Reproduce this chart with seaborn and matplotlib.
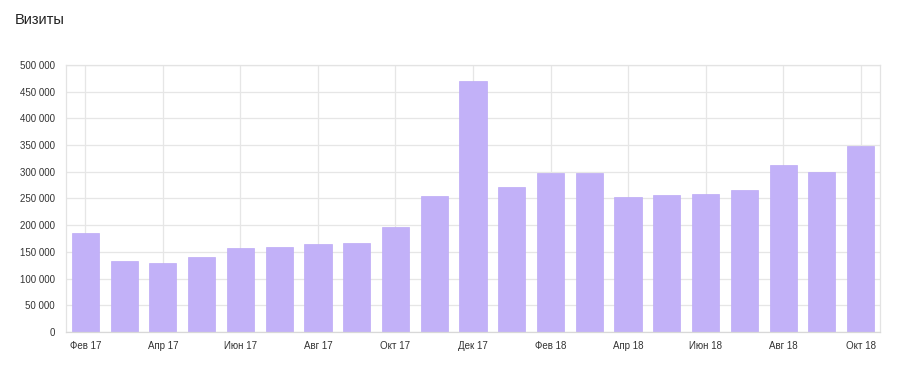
import matplotlib
matplotlib.use("Agg")
import matplotlib.pyplot as plt
import seaborn as sns
import pandas as pd
from matplotlib.ticker import FuncFormatter, MultipleLocator

months = ["Фев 17", "Мар 17", "Апр 17", "Май 17", "Июн 17", "Июл 17", "Авг 17",
          "Сен 17", "Окт 17", "Ноя 17", "Дек 17", "Янв 18", "Фев 18", "Мар 18",
          "Апр 18", "Май 18", "Июн 18", "Июл 18", "Авг 18", "Сен 18", "Окт 18"]
visits = [185000, 133000, 128600, 140400, 157900, 159800, 165400,
          166700, 196600, 254700, 469400, 270900, 298400, 297100,
          252800, 255900, 259100, 266500, 312100, 300300, 348900]
shown_labels = ["Фев 17", "Апр 17", "Июн 17", "Авг 17", "Окт 17", "Дек 17",
                "Фев 18", "Апр 18", "Июн 18", "Авг 18", "Окт 18"]
title = "Визиты"

sns.set_style("white")
plt.rcParams["font.family"] = ["Liberation Sans", "DejaVu Sans"]

df = pd.DataFrame({"month": months, "visits": visits})

fig = plt.figure(figsize=(9, 3.67), dpi=100)
ax = fig.add_axes([0.0733, 0.0954, 0.9045, 0.7275])

sns.barplot(data=df, x="month", y="visits", order=months, color="#c2b1f8",
            width=0.7, edgecolor="#bdaaf6", linewidth=0.5, saturation=1, ax=ax)

ax.set_xlim(-0.5, len(months) - 0.5)
ax.set_ylim(0, 500000)
ax.yaxis.set_major_locator(MultipleLocator(50000))
ax.yaxis.set_major_formatter(FuncFormatter(lambda v, p: f"{int(v):,}".replace(",", " ")))

tick_pos = [months.index(m) for m in shown_labels]
ax.set_xticks(tick_pos)
ax.set_xticklabels(shown_labels)

ax.set_axisbelow(True)
ax.grid(True, axis="both", color="#e6e6e6", linewidth=0.9)
for s in ax.spines.values():
    s.set_color("#e3e3e3")
    s.set_linewidth(0.9)
ax.spines["bottom"].set_color("#d8d8d8")

ax.tick_params(axis="both", length=0, labelsize=7, labelcolor="#333333")
ax.tick_params(axis="x", pad=6.5)
ax.tick_params(axis="y", pad=8)
ax.set_xlabel("")
ax.set_ylabel("")

fig.text(15 / 900, 1 - 20 / 367, title, fontsize=10.5, color="#222222",
         ha="left", va="center")

fig.savefig("out.png", dpi=100, facecolor="white")
